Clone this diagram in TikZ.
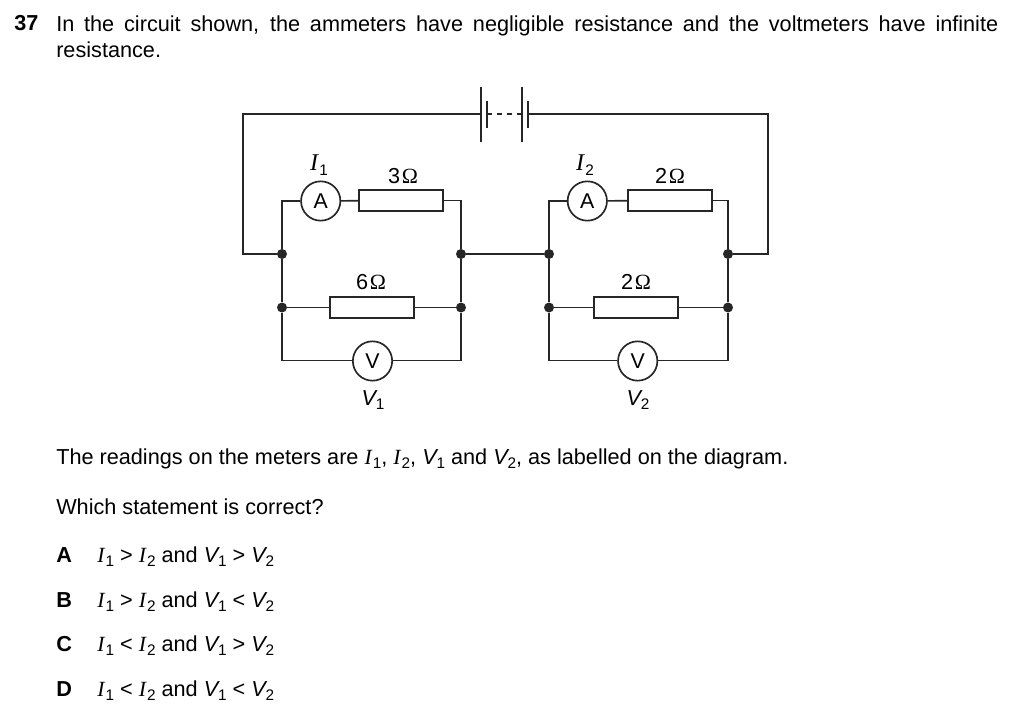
\documentclass[tikz,border=0pt]{standalone}
\usepackage{fontspec}
\setmainfont{Liberation Sans}
\newfontfamily\serifit[ItalicFont=Liberation Serif Italic]{Liberation Serif}
\usetikzlibrary{calc}
\newcommand{\Icur}[1]{{\serifit\itshape I}\kern0.8pt\raisebox{-0.2em}{\fontsize{11.5}{11.5}\selectfont #1}}
\newcommand{\Vvol}[1]{{\itshape V}\kern-0.1pt\raisebox{-0.2em}{\fontsize{11.5}{11.5}\selectfont #1}}
\newcommand{\Ohm}[1]{#1\kern1.2pt{\serifit\symbol{"03A9}}}
\tikzset{
  wire/.style={line width=1.25pt,draw=black!85},
  resistor/.style={draw=black!85,line width=1.25pt,fill=white,minimum width=63pt,minimum height=15.6pt,inner sep=0pt},
  meter/.style={circle,draw=black!85,line width=1.25pt,fill=white,minimum size=29.5pt,inner sep=0pt,font=\fontsize{16}{16}\selectfont},
  joint/.style={circle,fill=black!85,minimum size=7.5pt,inner sep=0pt},
  para/.style={anchor=base west,inner sep=0pt,font=\fontsize{16.25}{16.25}\selectfont},
  lab/.style={anchor=base,inner sep=0pt,font=\fontsize{16.25}{16.25}\selectfont},
  plate/.style={line width=1.25pt,draw=black!85}
}
\begin{document}
\begin{tikzpicture}[x=0.75pt,y=-0.75pt]
\useasboundingbox (0,0) rectangle (1024,720);
% text
\node[para,font=\fontsize{16.25}{16.25}\bfseries] (num) at (14,31) {37};
\node[anchor=north west,inner sep=0pt,text width=706.5pt,align=justify,font=\fontsize{16.25}{19.5}\selectfont] (intro) at (56,15.5)
  {In the circuit shown, the ammeters have negligible resistance and the voltmeters have infinite\linebreak resistance.};
\node[para] (readings) at (56,464.5) {The readings on the meters are \Icur{1}, \Icur{2}, \Vvol{1} and \Vvol{2}, as labelled on the diagram.};
\node[para] (which) at (56,514.5) {Which statement is correct?};
\foreach \n/\y/\a/\b in {A/562.5/>/>,B/607/>/<,C/651/</>,D/696/</<}{
  \node[para,font=\fontsize{16.25}{16.25}\bfseries] (opt\n) at (56,\y) {\n};
  \node[para] (ans\n) at (97,\y) {\Icur{1} \a{} \Icur{2} and \Vvol{1} \b{} \Vvol{2}};
}
% junctions
\node[joint] (jl1) at (282,254) {};
\node[joint] (jr1) at (461,254) {};
\node[joint] (jl2) at (549,254) {};
\node[joint] (jr2) at (728,254) {};
\node[joint] (ml1) at (282,307.5) {};
\node[joint] (mr1) at (461,307.5) {};
\node[joint] (ml2) at (549,307.5) {};
\node[joint] (mr2) at (728,307.5) {};
% free corners
\coordinate (tl) at (243,114);
\coordinate (tr) at (768,114);
\coordinate (bl1) at (282,360.5);
\coordinate (br1) at (461,360.5);
\coordinate (bl2) at (549,360.5);
\coordinate (br2) at (728,360.5);
% components
\node[meter] (A1) at (320.7,201) {A};
\node[meter] (A2) at (587.3,201) {A};
\node[meter] (V1) at (372.5,361) {V};
\node[meter] (V2) at (637.7,361) {V};
\node[resistor] (R3) at (401,200.5) {};
\node[resistor] (R2a) at (670,200.5) {};
\node[resistor] (R6) at (372,307.5) {};
\node[resistor] (R2b) at (636,307.5) {};
% battery
\coordinate (b1) at (481,114);
\coordinate (b2) at (487,114);
\coordinate (b3) at (522,114);
\coordinate (b4) at (528,114);
\draw[plate] (481,87) -- (481,142);
\draw[plate] (487,101) -- (487,128);
\draw[plate] (522,87) -- (522,142);
\draw[plate] (528,101) -- (528,128);
\draw[wire,dash pattern=on 3.75pt off 3.75pt] (b2) -- (b3);
% wires
\draw[wire] (b1) -- (tl) |- (jl1);
\draw[wire] (b4) -- (tr) |- (jr2);
\draw[wire] (jr1) -- (jl2);
\draw[wire] (jl1) |- (A1);
\draw[wire] (A1) -- (R3);
\draw[wire] (R3.east) -| (jr1);
\draw[wire] (jl2) |- (A2);
\draw[wire] (A2) -- (R2a);
\draw[wire] (R2a.east) -| (jr2);
\draw[wire] (jl1) -- (ml1) -- (R6) -- (mr1) -- (jr1);
\draw[wire] (jl2) -- (ml2) -- (R2b) -- (mr2) -- (jr2);
\draw[wire] (ml1) -- (bl1) -- (V1.west |- bl1);
\draw[wire] (V1.east |- br1) -- (br1) -- (mr1);
\draw[wire] (ml2) -- (bl2) -- (V2.west |- bl2);
\draw[wire] (V2.east |- br2) -- (br2) -- (mr2);
% labels
\node[lab,font=\fontsize{18}{18}\selectfont] (lI1) at (319,171) {\Icur{1}};
\node[lab,font=\fontsize{18}{18}\selectfont] (lI2) at (585,171) {\Icur{2}};
\node[lab] (l3) at (403,183.5) {\Ohm{3}};
\node[lab] (l2a) at (670,183.5) {\Ohm{2}};
\node[lab] (l6) at (371,290) {\Ohm{6}};
\node[lab] (l2b) at (636,290) {\Ohm{2}};
\node[lab] (lV1) at (373,405) {\Vvol{1}};
\node[lab] (lV2) at (638,405) {\Vvol{2}};
\end{tikzpicture}
\end{document}
